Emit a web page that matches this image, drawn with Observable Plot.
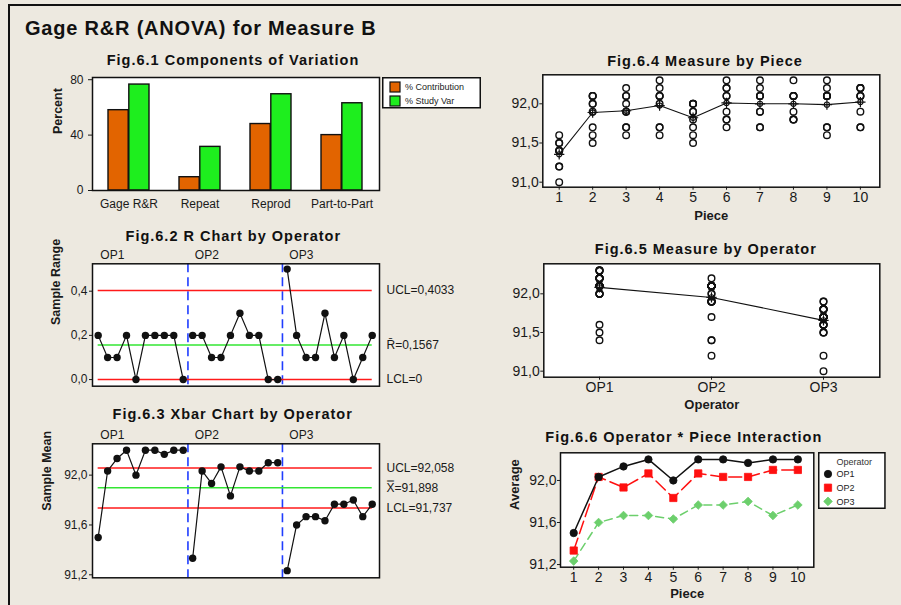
<!DOCTYPE html>
<html><head><meta charset="utf-8">
<script src="https://cdn.jsdelivr.net/npm/d3@7"></script>
<script src="https://cdn.jsdelivr.net/npm/@observablehq/plot@0.6"></script>
<style>
html,body{margin:0;padding:0;background:#EDE9E0;}
#root{position:relative;width:901px;height:605px;overflow:hidden;background:#EDE9E0;font-family:"Liberation Sans",Arial,sans-serif;color:#111;}
#border{position:absolute;left:8px;top:4px;width:1000px;height:1000px;border-left:2px solid #111;border-top:2px solid #111;}
.panel{position:absolute;}
.title{position:absolute;font-weight:bold;white-space:nowrap;line-height:1;}
.ptitle{position:absolute;font-weight:bold;font-size:14.5px;letter-spacing:1px;white-space:nowrap;line-height:1;transform:translate(-50%,-50%);}
</style></head>
<body><div id="root"><div id="border"></div></div>
<script>
// ---------- data ----------
const pieces = [1,2,3,4,5,6,7,8,9,10];
const operators = ["OP1","OP2","OP3"];
// three trials per piece, read from Fig 6.4 / 6.5 and consistent with the R and Xbar charts
const trialsOP1 = [[91.4,91.5,91.6],[92.0,92.0,92.1],[92.1,92.1,92.2],[92.1,92.2,92.3],[92.0,92.0,92.0],
                   [92.1,92.2,92.3],[92.1,92.2,92.3],[92.1,92.1,92.3],[92.1,92.2,92.3],[92.2,92.2,92.2]];
const trialsOP2 = [[91.2,91.4,91.4],[91.9,92.1,92.1],[91.9,91.9,92.0],[92.0,92.1,92.1],[91.7,91.9,91.9],
                   [91.9,92.1,92.2],[91.9,92.1,92.1],[91.9,92.1,92.1],[92.1,92.1,92.1],[92.1,92.1,92.1]];
const trialsOP3 = [[91.0,91.2,91.5],[91.5,91.6,91.7],[91.6,91.7,91.7],[91.6,91.7,91.7],[91.5,91.6,91.8],
                   [91.7,91.8,91.8],[91.7,91.7,91.9],[91.8,91.8,91.8],[91.6,91.7,91.7],[91.7,91.7,91.9]];
const components = ["Gage R&R","Repeat","Reprod","Part-to-Part"];
const pctContribution = [58, 9.6, 48, 40];
const pctStudyVar = [76.5, 31.5, 69.5, 63];
const limitKinds = ["UCL","center","LCL"];
const rLimitValues = [0.4033, 0.1567, 0];
const rLimitLabels = ["UCL=0,4033", "R\u0304=0,1567", "LCL=0"];
const xbarLimitValues = [92.058, 91.898, 91.737];
const xbarLimitLabels = ["UCL=92,058", "X\u033F=91,898", "LCL=91,737"];
const pctTicks = [0, 40, 80];
const rTicks = [0, 0.2, 0.4];
const xbarTicks = [91.2, 91.6, 92.0];
const measTicks = [91.0, 91.5, 92.0];
const avgTicks = [91.2, 91.6, 92.0];

// ---------- styles ----------
const C = {orange:"#E26400", green:"#1EEE1E", red:"#FF1A1A", center:"#33E633", blue:"#1F3DFF", op3:"#6CCF6C", ink:"#111"};
const FONT = '"Liberation Sans", Arial, sans-serif';
const leftStyle = {fontFamily: FONT, fontSize: "12px", background: "transparent", color: "#1a1a1a", overflow: "visible"};
const rightStyle = {fontFamily: FONT, fontSize: "14px", background: "transparent", color: "#1a1a1a", overflow: "visible"};
const comma = n => d => d.toFixed(n).replace(".", ",");

// ---------- derived tables ----------
const trials = [trialsOP1, trialsOP2, trialsOP3];
const subgroups = operators.flatMap((op, oi) => trials[oi].map((t, pi) => ({
  op, piece: pieces[pi], idx: oi * pieces.length + pi + 1,
  mean: d3.mean(t), range: Math.round((d3.max(t) - d3.min(t)) * 10) / 10
})));
const measurements = operators.flatMap((op, oi) => trials[oi].flatMap((t, pi) => t.map(v => ({op, piece: pieces[pi], value: v}))));
const pieceMeans = pieces.map(p => ({piece: p, value: d3.mean(measurements.filter(d => d.piece === p), d => d.value)}));
const opMeans = operators.map(op => ({op, value: d3.mean(measurements.filter(d => d.op === op), d => d.value)}));
const idxExtent = d3.extent(subgroups, d => d.idx);
const firstIdx = op => d3.min(subgroups.filter(d => d.op === op), d => d.idx);
const boundaries = operators.slice(1).map(op => ({x: firstIdx(op) - 0.5}));
const opLabels = operators.map(op => ({op, x: firstIdx(op) + 1.5}));
const compRows = components.map((c, i) => ({c, contrib: pctContribution[i], study: pctStudyVar[i]}));

const root = document.getElementById("root");
function place(node, left, top) {
  const d = document.createElement("div");
  d.className = "panel"; d.style.left = left + "px"; d.style.top = top + "px";
  d.appendChild(node); root.appendChild(d);
}
function title(text, cx, cy, cls, extra) {
  const d = document.createElement("div");
  d.className = cls; d.textContent = text;
  d.style.left = cx + "px"; d.style.top = cy + "px";
  Object.assign(d.style, extra || {});
  root.appendChild(d);
}
const axisTitle = (text, dy) => Plot.text([text], {frameAnchor: "bottom", lineAnchor: "middle", dy, fontWeight: "bold", fontSize: 13});

// ---------- Fig 6.1 ----------
{
  const W = 390, ml = 92, mr = 11;
  const pad = 0.42;
  const half = (W - ml - mr) / components.length * (1 - pad) / 2;
  place(Plot.plot({
    width: W, height: 160, marginLeft: ml, marginRight: mr, marginTop: 17, marginBottom: 30,
    style: leftStyle,
    x: {type: "band", domain: components, paddingInner: pad, paddingOuter: pad / 2, axis: null},
    y: {domain: [0, 81.6], axis: null},
    marks: [
      Plot.frame({fill: "white"}),
      Plot.barY(compRows, {x: "c", y: "contrib", fill: C.orange, stroke: C.ink, strokeWidth: 1.4, insetRight: half}),
      Plot.barY(compRows, {x: "c", y: "study", fill: C.green, stroke: C.ink, strokeWidth: 1.4, insetLeft: half}),
      Plot.axisX({tickSize: 0, tickPadding: 9, label: null}),
      Plot.axisY({ticks: pctTicks, tickSize: 4, tickPadding: 5, label: null}),
      Plot.text(["Percent"], {frameAnchor: "left", rotate: -90, dx: -35, fontWeight: "bold", fontSize: 12.5}),
      Plot.frame({stroke: C.ink, strokeWidth: 1.5})
    ]
  }), 0, 60);
}

// ---------- control charts (Fig 6.2, 6.3) ----------
function controlChart({valueKey, yDomain, ticks, tickFormat, limitValues, limitLabels, yLabel, labelDx, height, marginTop, marginBottom}) {
  const limits = limitValues.map((v, i) => ({v, label: limitLabels[i], kind: limitKinds[i]}));
  return Plot.plot({
    width: 480, height, marginLeft: 92, marginRight: 101, marginTop, marginBottom,
    style: leftStyle,
    x: {domain: [0.4, 30.77], axis: null},
    y: {domain: yDomain, axis: null},
    marks: [
      Plot.frame({fill: "white"}),
      Plot.ruleX(boundaries, {x: "x", stroke: C.blue, strokeWidth: 1.6, strokeDasharray: "9,5"}),
      Plot.ruleY(limits.filter(d => d.kind !== "center"), {y: "v", x1: () => idxExtent[0], x2: () => idxExtent[1], stroke: C.red, strokeWidth: 1.5}),
      Plot.ruleY(limits.filter(d => d.kind === "center"), {y: "v", x1: () => idxExtent[0], x2: () => idxExtent[1], stroke: C.center, strokeWidth: 1.5}),
      Plot.line(subgroups, {x: "idx", y: valueKey, z: "op", stroke: C.ink, strokeWidth: 1.2}),
      Plot.dot(subgroups, {x: "idx", y: valueKey, r: 3.7, fill: C.ink}),
      Plot.text(limits, {y: "v", text: "label", frameAnchor: "right", dx: 7, textAnchor: "start", fontSize: 12}),
      Plot.text(opLabels, {x: "x", text: "op", frameAnchor: "top", lineAnchor: "middle", dy: -8.3, fontSize: 12}),
      Plot.axisY({ticks, tickFormat, tickSize: 3, tickPadding: 2, label: null}),
      Plot.text([yLabel], {frameAnchor: "left", rotate: -90, dx: -labelDx, fontWeight: "bold", fontSize: 12.5}),
      Plot.frame({stroke: C.ink, strokeWidth: 1.5})
    ]
  });
}
place(controlChart({valueKey: "range", yDomain: [-0.03, 0.524], ticks: rTicks, tickFormat: comma(1),
  limitValues: rLimitValues, limitLabels: rLimitLabels, yLabel: "Sample Range", labelDx: 37,
  height: 160, marginTop: 23.3, marginBottom: 14.3}), 0, 240);
place(controlChart({valueKey: "mean", yDomain: [91.176, 92.2515], ticks: xbarTicks, tickFormat: comma(1),
  limitValues: xbarLimitValues, limitLabels: xbarLimitLabels, yLabel: "Sample Mean", labelDx: 46,
  height: 185, marginTop: 23.3, marginBottom: 27.7}), 0, 420);

// ---------- Fig 6.4 ----------
place(Plot.plot({
  width: 411, height: 165, marginLeft: 52.3, marginRight: 21.7, marginTop: 14.3, marginBottom: 38.3,
  style: rightStyle,
  x: {domain: [0.51, 10.58], axis: null},
  y: {domain: [90.936, 92.37], axis: null},
  marks: [
    Plot.frame({fill: "white"}),
    Plot.line(pieceMeans, {x: "piece", y: "value", stroke: C.ink, strokeWidth: 1.1}),
    Plot.dot(measurements, {x: "piece", y: "value", r: 3.3, stroke: C.ink, strokeWidth: 1.4, fill: "none"}),
    Plot.dot(pieceMeans, {x: "piece", y: "value", r: 2.6, stroke: C.ink, strokeWidth: 1.1, fill: "none"}),
    Plot.dot(pieceMeans, {x: "piece", y: "value", symbol: "plus", r: 3.4, stroke: C.ink, strokeWidth: 1.2}),
    Plot.axisX({ticks: pieces, tickFormat: d => String(d), tickSize: 3, tickPadding: 2, label: null}),
    Plot.axisY({ticks: measTicks, tickFormat: comma(1), tickSize: 3, tickPadding: 1, label: null}),
    axisTitle("Piece", 28.3),
    Plot.frame({stroke: C.ink, strokeWidth: 1.5})
  ]
}), 490, 60);

// ---------- Fig 6.5 ----------
place(Plot.plot({
  width: 411, height: 170, marginLeft: 53.3, marginRight: 21.7, marginTop: 18.3, marginBottom: 38.3,
  style: rightStyle,
  x: {type: "point", domain: operators, padding: 0.49, axis: null},
  y: {domain: [90.922, 92.388], axis: null},
  marks: [
    Plot.frame({fill: "white"}),
    Plot.line(opMeans, {x: "op", y: "value", stroke: C.ink, strokeWidth: 1.1}),
    Plot.dot(measurements, {x: "op", y: "value", r: 3.3, stroke: C.ink, strokeWidth: 1.4, fill: "none"}),
    Plot.dot(opMeans, {x: "op", y: "value", r: 2.6, stroke: C.ink, strokeWidth: 1.1, fill: "none"}),
    Plot.dot(opMeans, {x: "op", y: "value", symbol: "plus", r: 3.4, stroke: C.ink, strokeWidth: 1.2}),
    Plot.axisX({tickSize: 3, tickPadding: 2, label: null}),
    Plot.axisY({ticks: measTicks, tickFormat: comma(1), tickSize: 3, tickPadding: 1, label: null}),
    axisTitle("Operator", 27.6),
    Plot.frame({stroke: C.ink, strokeWidth: 1.5})
  ]
}), 490, 245);

// ---------- Fig 6.6 ----------
const opStyles = {
  OP1: {color: C.ink, symbol: "circle", dash: null, r: 3.7},
  OP2: {color: "#FF1010", symbol: "square", dash: "13,5", r: 4.1},
  OP3: {color: C.op3, symbol: "diamond2", dash: "8,5", r: 3.9}
};
place(Plot.plot({
  width: 411, height: 165, marginLeft: 70, marginRight: 87.7, marginTop: 12.3, marginBottom: 38.3,
  style: rightStyle,
  x: {domain: [0.47, 10.64], axis: null},
  y: {domain: [91.175, 92.263], axis: null},
  marks: [
    Plot.frame({fill: "white"}),
    ...operators.slice().reverse().flatMap(op => {
      const s = opStyles[op];
      const rows = subgroups.filter(d => d.op === op);
      return [
        Plot.line(rows, {x: "piece", y: "mean", stroke: s.color, strokeWidth: 1.5, strokeDasharray: s.dash}),
        Plot.dot(rows, {x: "piece", y: "mean", symbol: s.symbol, r: s.r, fill: s.color, stroke: s.color, strokeWidth: 0.8})
      ];
    }),
    Plot.axisX({ticks: pieces, tickFormat: d => String(d), tickSize: 3, tickPadding: 2, label: null}),
    Plot.axisY({ticks: avgTicks, tickFormat: comma(1), tickSize: 3, tickPadding: 1, label: null}),
    axisTitle("Piece", 27),
    Plot.text(["Average"], {frameAnchor: "left", rotate: -90, dx: -46, fontWeight: "bold", fontSize: 13}),
    Plot.frame({stroke: C.ink, strokeWidth: 1.5})
  ]
}), 490, 440);

// ---------- legends ----------
function svgLegend(left, top, w, h, build) {
  const svg = d3.create("svg").attr("width", w).attr("height", h)
    .style("font-family", FONT).style("font-size", "9px").style("overflow", "visible");
  svg.append("rect").attr("x", 0.75).attr("y", 0.75).attr("width", w - 1.5).attr("height", h - 1.5)
    .attr("fill", "white").attr("stroke", C.ink).attr("stroke-width", 1.5);
  build(svg);
  place(svg.node(), left, top);
}
svgLegend(382, 76.7, 99, 31.5, svg => {
  [["% Contribution", C.orange], ["% Study Var", C.green]].forEach(([t, col], i) => {
    const cy = 10 + i * 14;
    svg.append("rect").attr("x", 8).attr("y", cy - 5).attr("width", 10).attr("height", 10)
      .attr("fill", col).attr("stroke", C.ink).attr("stroke-width", 1.2);
    svg.append("text").attr("x", 23).attr("y", cy).attr("dy", "0.35em").attr("fill", "#222").text(t);
  });
});
svgLegend(818.3, 452.3, 67.7, 57, svg => {
  svg.append("text").attr("x", 18.4).attr("y", 10).attr("dy", "0.35em").attr("fill", "#333").text("Operator");
  const symMap = {circle: d3.symbolCircle, square: d3.symbolSquare, diamond2: d3.symbolDiamond2};
  operators.forEach((op, i) => {
    const s = opStyles[op];
    const cy = 22 + i * 13.7;
    svg.append("path").attr("transform", `translate(10,${cy})`)
      .attr("d", d3.symbol(symMap[s.symbol], Math.PI * s.r * s.r)())
      .attr("fill", s.color).attr("stroke", s.color).attr("stroke-width", 0.8);
    svg.append("text").attr("x", 18.4).attr("y", cy).attr("dy", "0.35em").attr("fill", "#222").text(op);
  });
});

// ---------- titles ----------
title("Gage R&R (ANOVA) for Measure B", 25, 18, "title", {fontSize: "20px", letterSpacing: "0.8px"});
title("Fig.6.1 Components of Variation", 233, 60, "ptitle");
title("Fig.6.2 R Chart by Operator", 233.3, 236, "ptitle");
title("Fig.6.3 Xbar Chart by Operator", 232.7, 414, "ptitle");
title("Fig.6.4 Measure by Piece", 705, 61, "ptitle");
title("Fig.6.5 Measure by Operator", 705.8, 249, "ptitle");
title("Fig.6.6 Operator * Piece Interaction", 683.8, 437.3, "ptitle");
</script>
</body></html>
